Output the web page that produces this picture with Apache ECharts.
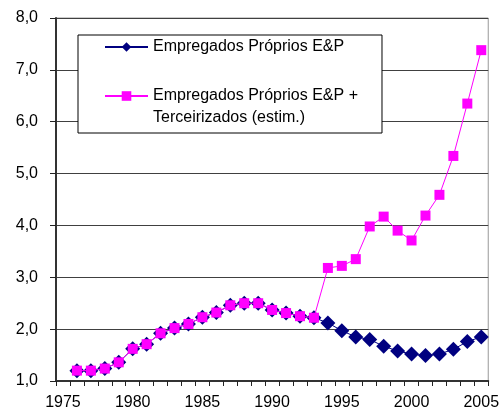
<!DOCTYPE html>
<html>
<head>
<meta charset="utf-8">
<script src="https://cdn.jsdelivr.net/npm/echarts@6/dist/echarts.min.js"></script>
<style>html,body{margin:0;padding:0;background:#fff;}#c{width:502px;height:412px;}</style>
</head>
<body>
<div id="c"></div>
<script>
var years = ['1975','1976','1977','1978','1979','1980','1981','1982','1983','1984','1985','1986','1987','1988','1989','1990','1991','1992','1993','1994','1995','1996','1997','1998','1999','2000','2001','2002','2003','2004','2005'];
var ownStaff = [null,1.20,1.20,1.24,1.36,1.62,1.71,1.92,2.02,2.10,2.23,2.32,2.46,2.50,2.50,2.37,2.31,2.25,2.22,2.12,1.97,1.85,1.80,1.67,1.58,1.52,1.49,1.52,1.61,1.76,1.85];
var withOutsourced = [null,1.20,1.20,1.24,1.36,1.62,1.71,1.92,2.02,2.10,2.23,2.32,2.46,2.50,2.50,2.37,2.31,2.25,2.22,3.18,3.22,3.35,3.98,4.17,3.90,3.71,4.19,4.59,5.34,6.35,7.38];
var nameOwn = 'Empregados Próprios E&P';
var nameAll = 'Empregados Próprios E&P +\nTerceirizados (estim.)';
var FONT = '"Liberation Sans", Arial, sans-serif';

var chart = echarts.init(document.getElementById('c'), null, {renderer: 'canvas'});
chart.setOption({
  animation: false,
  backgroundColor: '#ffffff',
  grid: {left: 56, right: 10, top: 18, bottom: 31, show: true, borderColor: '#999999', borderWidth: 1, backgroundColor: 'transparent'},
  legend: {
    left: 78, top: 35,
    orient: 'vertical',
    selectedMode: false,
    backgroundColor: '#ffffff',
    borderColor: '#000000',
    borderWidth: 1,
    padding: [1, 24, 4, 26],
    itemGap: 5,
    itemWidth: 43,
    itemHeight: 12,
    data: [nameOwn, nameAll],
    formatter: function (n) { return n.indexOf('\n') >= 0 ? '\n' + n : n; },
    textStyle: {fontFamily: FONT, fontSize: 16, color: '#000', lineHeight: 22}
  },
  xAxis: {
    type: 'category',
    data: years,
    boundaryGap: true,
    axisLine: {show: true, onZero: false, lineStyle: {color: '#333', width: 2}},
    axisTick: {show: true, interval: 0, inside: false, length: 5, lineStyle: {color: '#222', width: 1}},
    axisLabel: {interval: 4, margin: 14, fontFamily: FONT, fontSize: 16, color: '#000'},
    splitLine: {show: false}
  },
  yAxis: {
    type: 'value',
    min: 1, max: 8, interval: 1,
    axisLine: {show: true, lineStyle: {color: '#333', width: 2}},
    axisTick: {show: true, inside: false, length: 6, lineStyle: {color: '#222', width: 1}},
    axisLabel: {margin: 18, fontFamily: FONT, fontSize: 16, color: '#000',
      formatter: function (v) { return v.toFixed(1).replace('.', ','); }},
    splitLine: {show: true, lineStyle: {color: '#404040', width: 1}}
  },
  series: [
    {
      name: nameOwn, type: 'line', data: ownStaff,
      symbol: 'diamond', symbolSize: 15, showAllSymbol: true,
      itemStyle: {color: '#000080'},
      lineStyle: {color: '#000080', width: 1},
      z: 2
    },
    {
      name: nameAll, type: 'line', data: withOutsourced,
      symbol: 'rect', symbolSize: 10, showAllSymbol: true,
      itemStyle: {color: '#ff00ff'},
      lineStyle: {color: '#ff00ff', width: 1},
      z: 3
    }
  ]
});
</script>
</body>
</html>
